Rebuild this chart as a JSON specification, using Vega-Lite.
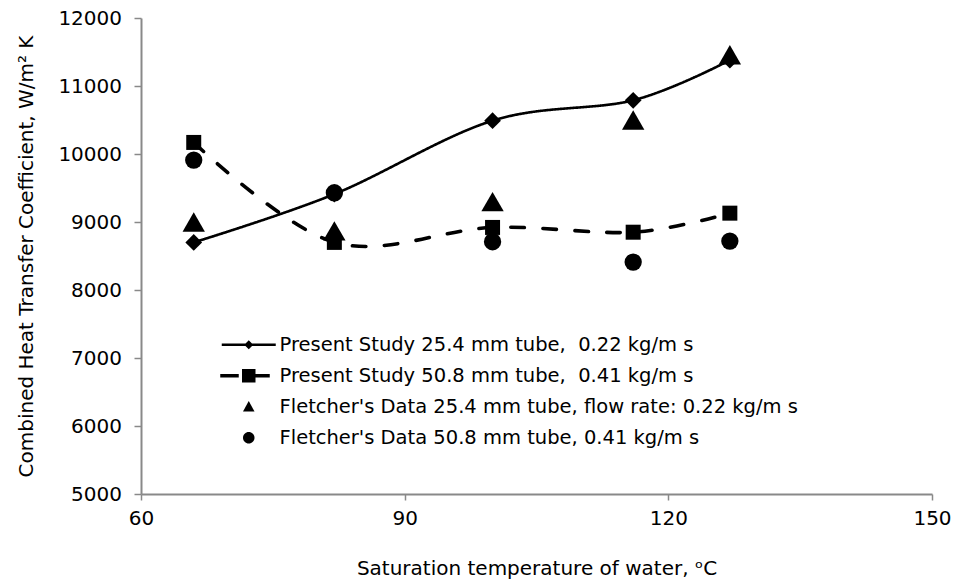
{
  "$schema": "https://vega.github.io/schema/vega-lite/v6.json",
  "autosize": {"type": "none"},
  "padding": {"left": 141, "top": 18, "right": 23, "bottom": 94},
  "width": 791,
  "height": 476,
  "background": "white",
  "config": {
    "view": {"stroke": null},
    "font": "DejaVu Sans",
    "axis": {
      "grid": false,
      "domainColor": "#898989",
      "domainWidth": 2,
      "tickColor": "#898989",
      "tickWidth": 1.5,
      "labelFont": "DejaVu Sans",
      "labelFontSize": 20,
      "labelColor": "#000000",
      "titleFont": "DejaVu Sans",
      "titleFontSize": 20,
      "titleFontWeight": "normal",
      "titleColor": "#000000",
      "labelFlush": false,
      "labelOverlap": false
    }
  },
  "data": {
    "values": [
      {"series": "A", "temp": 66, "h": 8700},
      {"series": "A", "temp": 82, "h": 9410},
      {"series": "A", "temp": 100, "h": 10490},
      {"series": "A", "temp": 116, "h": 10790},
      {"series": "A", "temp": 127, "h": 11380},
      {"series": "B", "temp": 66, "h": 10170},
      {"series": "B", "temp": 82, "h": 8700},
      {"series": "B", "temp": 100, "h": 8920},
      {"series": "B", "temp": 116, "h": 8850},
      {"series": "B", "temp": 127, "h": 9130},
      {"series": "C", "temp": 66, "h": 9000},
      {"series": "C", "temp": 82, "h": 8870},
      {"series": "C", "temp": 100, "h": 9300},
      {"series": "C", "temp": 116, "h": 10500},
      {"series": "C", "temp": 127, "h": 11460},
      {"series": "D", "temp": 66, "h": 9910},
      {"series": "D", "temp": 82, "h": 9430},
      {"series": "D", "temp": 100, "h": 8710},
      {"series": "D", "temp": 116, "h": 8410},
      {"series": "D", "temp": 127, "h": 8720}
    ]
  },
  "encoding": {
    "x": {
      "field": "temp", "type": "quantitative",
      "scale": {"domain": [60, 150], "nice": false, "zero": false},
      "axis": {
        "values": [60, 90, 120, 150],
        "title": "Saturation temperature of water, ᵒC",
        "tickSize": 6,
        "labelPadding": 8,
        "titlePadding": 30
      }
    },
    "y": {
      "field": "h", "type": "quantitative",
      "scale": {"domain": [5000, 12000], "nice": false, "zero": false},
      "axis": {
        "values": [5000, 6000, 7000, 8000, 9000, 10000, 11000, 12000],
        "format": "d",
        "title": "Combined Heat Transfer Coefficient, W/m² K",
        "tickSize": 7,
        "labelPadding": 12.5,
        "titlePadding": 21
      }
    }
  },
  "layer": [
    {
      "data": {"values": [{}]},
      "mark": {"type": "rule", "color": "#000000", "strokeWidth": 2},
      "encoding": {"x": null, "y": {"datum": 12000, "type": "quantitative"}}
    },
    {
      "data": {"values": [{}]},
      "mark": {"type": "rule", "color": "#000000", "strokeWidth": 2},
      "encoding": {"y": null, "x": {"datum": 150, "type": "quantitative"}}
    },
    {
      "transform": [{"filter": {"field": "series", "oneOf": ["A", "B"]}}],
      "mark": {"type": "line", "interpolate": "cardinal", "color": "#000000", "strokeCap": "round"},
      "encoding": {
        "detail": {"field": "series", "type": "nominal"},
        "strokeDash": {
          "field": "series", "type": "nominal",
          "scale": {"domain": ["A", "B"], "range": [[1, 0], [13.5, 18.5]]},
          "legend": null
        },
        "strokeWidth": {
          "field": "series", "type": "nominal",
          "scale": {"type": "ordinal", "domain": ["B", "A"], "range": [3.6, 2.6]},
          "legend": null
        }
      }
    },
    {
      "mark": {"type": "point", "filled": true, "color": "#000000", "opacity": 1, "strokeWidth": 0},
      "encoding": {
        "shape": {
          "field": "series", "type": "nominal",
          "scale": {"domain": ["A", "B", "C", "D"], "range": ["diamond", "square", "triangle-up", "circle"]},
          "legend": null
        },
        "size": {
          "field": "series", "type": "nominal",
          "scale": {"type": "ordinal", "domain": ["D", "C", "B", "A"], "range": [300, 500, 225, 280]},
          "legend": null
        }
      }
    },
    {
      "transform": [{"filter": "datum.temp > 1000"}],
      "mark": {"type": "point", "filled": true, "color": "#000000", "opacity": 1, "strokeWidth": 0},
      "encoding": {
        "shape": {
          "field": "series", "type": "nominal",
          "scale": {
            "domain": ["A", "B", "C", "D"],
            "range": [
              "M-5.4,-0.25H5.4V0.25H-5.4Z M0,-0.9L0.9,0L0,0.9L-0.9,0Z",
              "M-5.7,-0.35H-2.0V0.35H-5.7Z M1.3,-0.35H4.2V0.35H1.3Z M-1.35,-1.35H1.35V1.35H-1.35Z",
              "M0,-1.15L1.15,0.95H-1.15Z",
              "M-1.15,0A1.15,1.15,0,1,0,1.15,0A1.15,1.15,0,1,0,-1.15,0Z"
            ]
          },
          "legend": {
            "orient": "none",
            "legendX": 98,
            "legendY": 317,
            "title": null,
            "labelFont": "DejaVu Sans",
            "labelFontSize": 19.5,
            "labelColor": "#000000",
            "labelLimit": 800,
            "labelOffset": 21,
            "rowPadding": 10,
            "symbolSize": 100,
            "symbolFillColor": "#000000",
            "symbolStrokeWidth": 0,
            "symbolOpacity": 1,
            "labelExpr": "datum.value === 'A' ? 'Present Study 25.4 mm tube,\u00a0 0.22 kg/m s' : datum.value === 'B' ? 'Present Study 50.8 mm tube,\u00a0 0.41 kg/m s' : datum.value === 'C' ? \"Fletcher's Data 25.4 mm tube, flow rate: 0.22 kg/m s\" : \"Fletcher's Data 50.8 mm tube, 0.41 kg/m s\""
          }
        }
      }
    }
  ],
  "resolve": {"scale": {"shape": "independent"}, "legend": {"shape": "independent"}}
}
